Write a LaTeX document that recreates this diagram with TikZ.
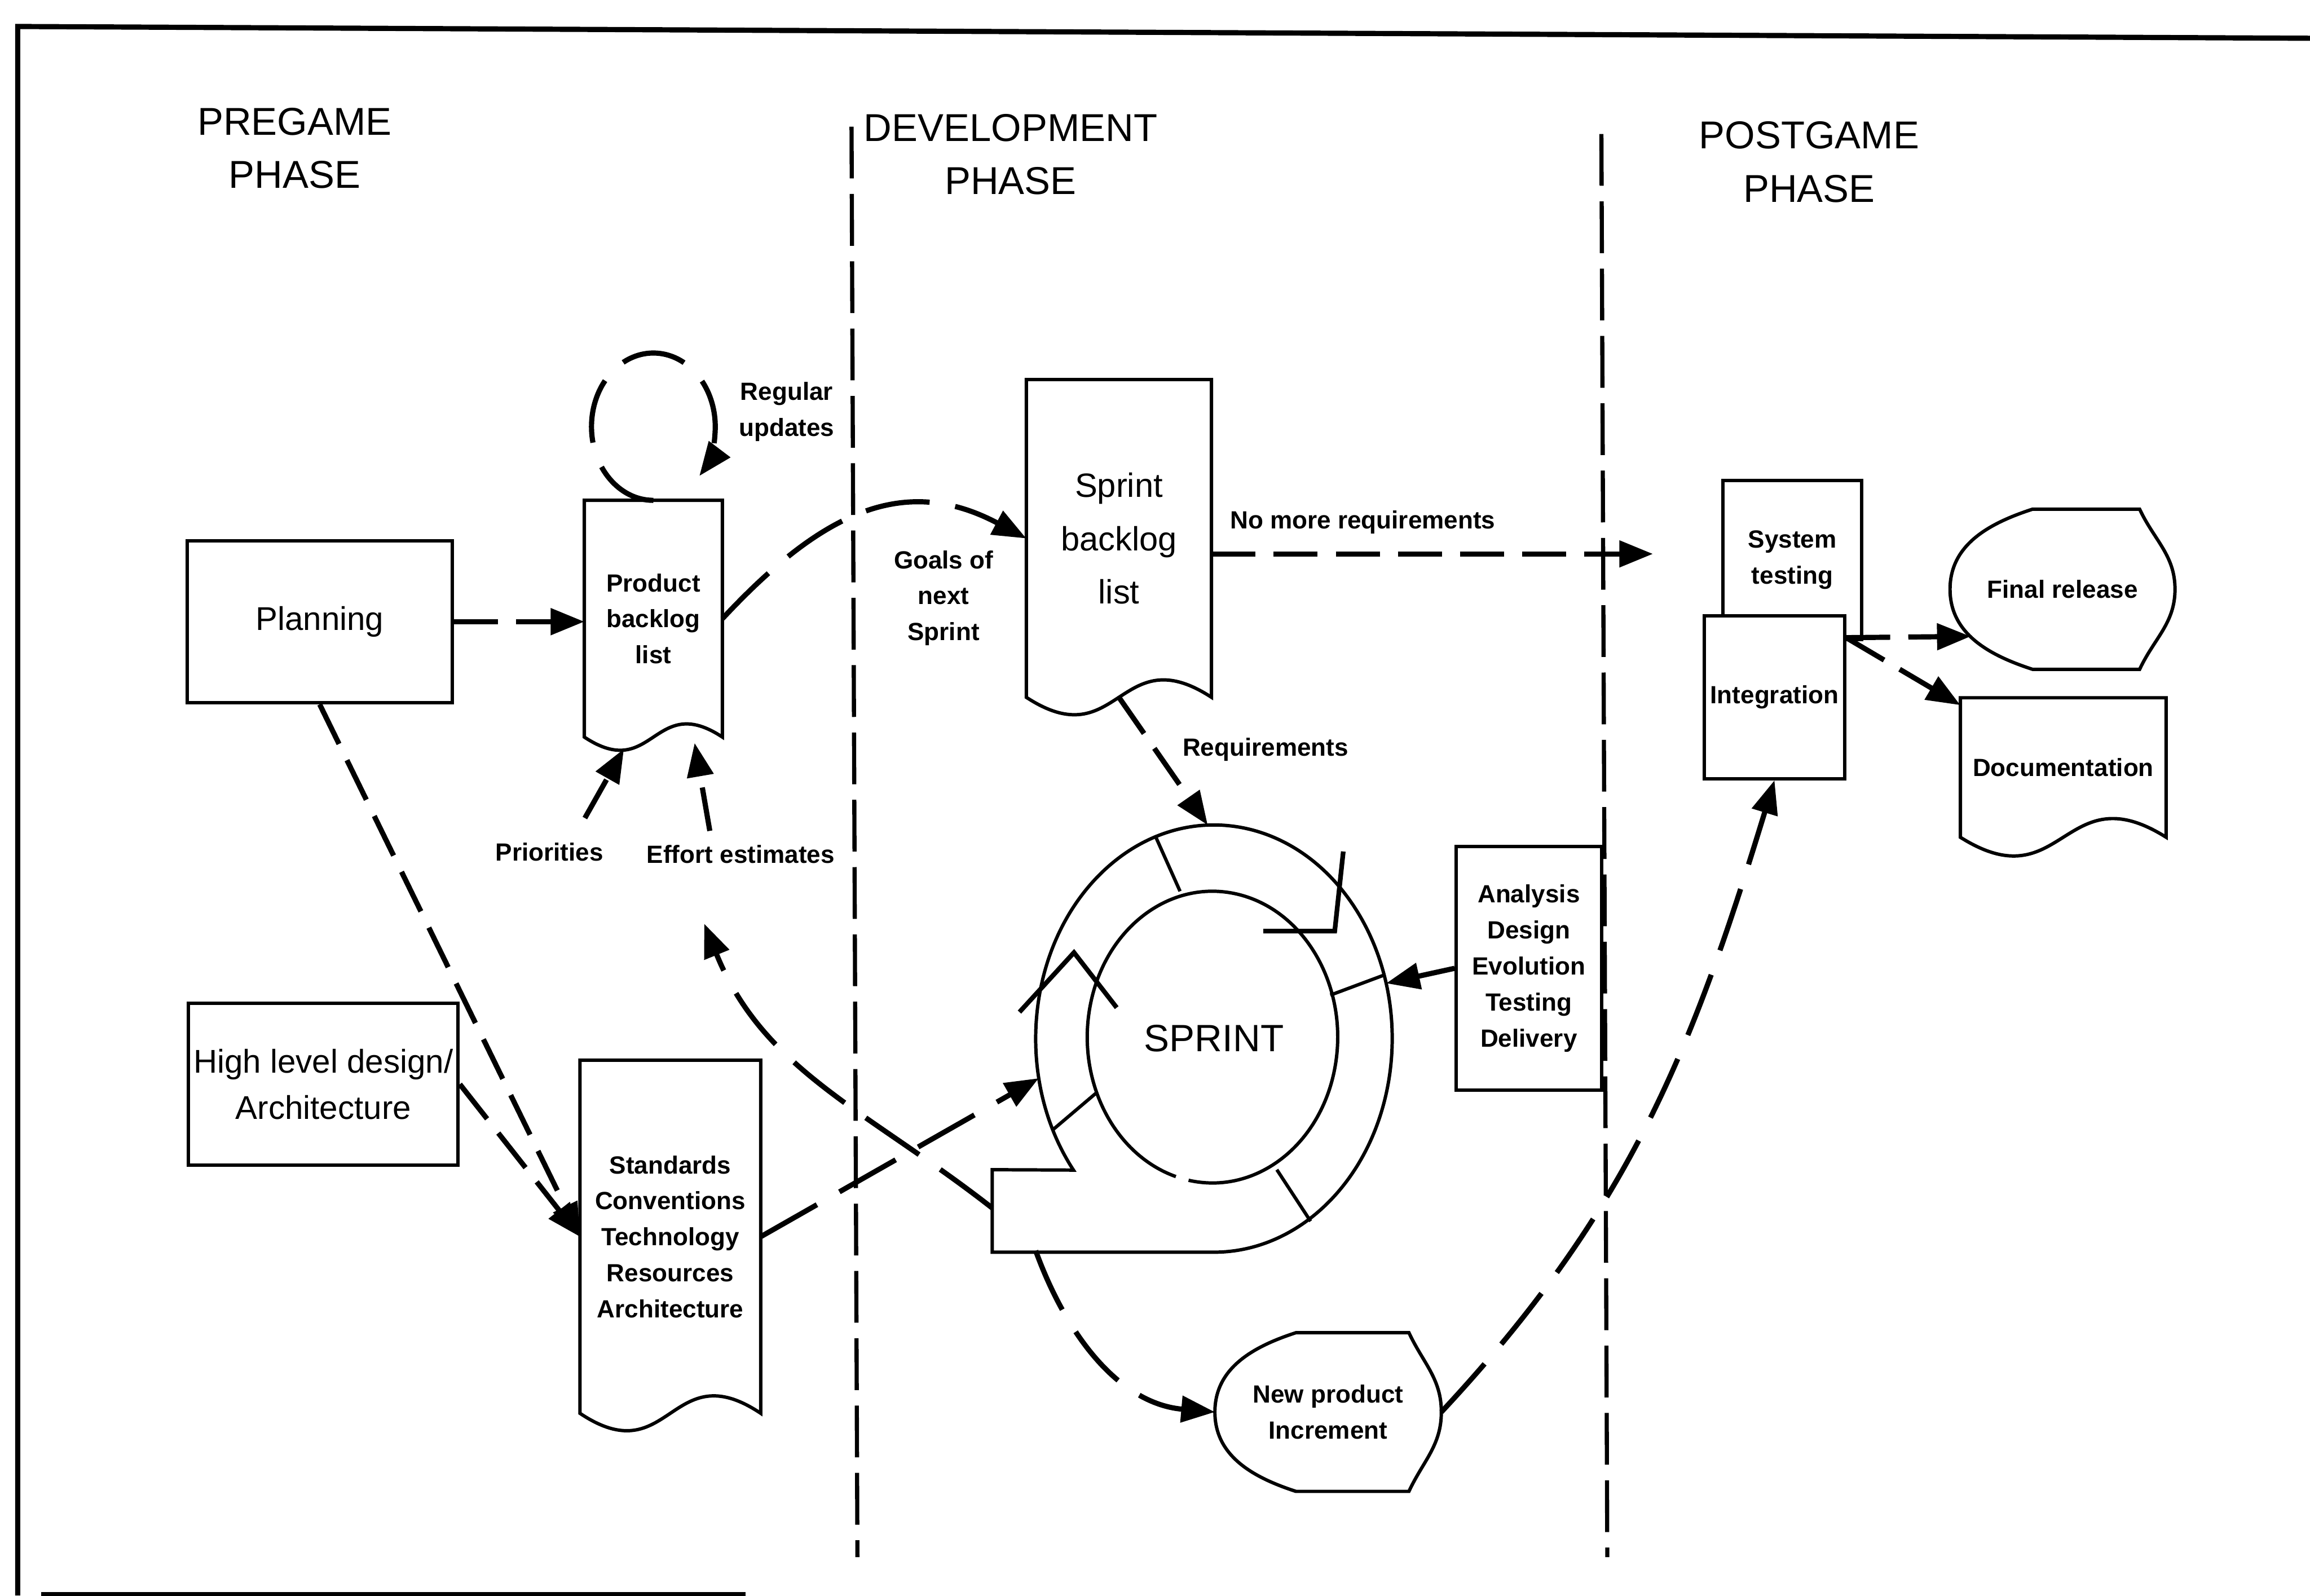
\documentclass[tikz,border=0pt]{standalone}
\usepackage{fontspec}
\setmainfont{Liberation Sans}
\usetikzlibrary{arrows.meta,calc}

\newcommand{\tagfont}{\fontsize{9.6}{13.9}\selectfont\bfseries}
\newcommand{\phasefont}{\fontsize{15}{20.5}\selectfont}
\newcommand{\bigfont}{\fontsize{12.7}{18}\selectfont}
\newcommand{\sbfont}{\fontsize{13}{20.5}\selectfont}
\newcommand{\ringfont}{\fontsize{14.7}{18}\selectfont}

\newcommand{\docframe}[2]{%
  \draw[boxline] (#1.south west) -- (#1.north west) -- (#1.north east) -- (#1.south east)
    .. controls ($(#1.south)+(0,#2)$) and ($(#1.south)+(0,-#2)$) .. (#1.south west) -- cycle;}
\newcommand{\dispframe}[3]{%
  \draw[boxline] ($(#1.north west)+(#2,0)$) -- ($(#1.north east)+(-#3,0)$)
    to[out=-65,in=90] (#1.east) to[out=-90,in=65] ($(#1.south east)+(-#3,0)$)
    -- ($(#1.south west)+(#2,0)$) to[out=162,in=-90] (#1.west)
    to[out=90,in=198] ($(#1.north west)+(#2,0)$) -- cycle;}

\begin{document}
\begin{tikzpicture}[x=0.2mm,y=0.2mm,
  boxline/.style={line width=1.3pt},
  box/.style={draw,line width=1.3pt,align=center,inner sep=0pt},
  docbox/.style={align=center,inner sep=0pt},
  tag/.style={font=\tagfont,align=center,inner sep=1pt},
  flow/.style={line width=2pt,dash pattern=on 17pt off 7pt,-{Triangle[length=13pt,width=10pt]}},
  longflow/.style={flow,dash pattern=on 25pt off 10pt},
  phaseline/.style={line width=1.6pt,dash pattern=on 20pt off 6pt}]

  \useasboundingbox (0,0) rectangle (1568,1083);

  % frame and phases
  \draw[line width=2pt] (1568,1057) -- (12,1065) -- (12,0);
  \draw[line width=1.6pt] (28,1) -- (506,1);
  \node[font=\phasefont,align=center] (pregame) at (200,982.5) {PREGAME\\PHASE};
  \node[font=\phasefont,align=center] (devphase) at (686,978) {DEVELOPMENT\\PHASE};
  \node[font=\phasefont,align=center] (postgame) at (1228,973) {POSTGAME\\PHASE};
  \draw[phaseline] (578,997) -- (582,26);
  \draw[phaseline] (1087,992) -- (1091,26);

  % boxes
  \node[box,minimum width=36mm,minimum height=22mm,font=\bigfont] (planning) at (217,661) {Planning};
  \node[box,minimum width=36.6mm,minimum height=22mm,font=\bigfont] (hld) at (219.5,347) {High level design/\\Architecture};
  \node[docbox,minimum width=18.6mm,minimum height=32mm,font=\tagfont] (pbl) at (443.5,663) {Product\\backlog\\list};
  \node[docbox,minimum width=25mm,minimum height=43mm,font=\sbfont] (sbl) at (759.5,717.5) {Sprint\\backlog\\list};
  \node[docbox,minimum width=24.4mm,minimum height=47.8mm,font=\tagfont] (std) at (455,243.5) {Standards\\Conventions\\Technology\\Resources\\Architecture};
  \node[box,minimum width=19.7mm,minimum height=33.1mm,font=\tagfont] (ana) at (1037.75,425.7) {Analysis\\Design\\Evolution\\Testing\\Delivery};
  \node[box,minimum width=18.8mm,minimum height=21.6mm,font=\tagfont] (syst) at (1216.6,703) {System\\testing};
  \node[box,fill=white,minimum width=19mm,minimum height=22.1mm,font=\tagfont] (intg) at (1204.5,609.75) {Integration};
  \node[docbox,minimum width=30.4mm,minimum height=21.6mm,font=\tagfont] (final) at (1400,683) {Final release};
  \node[docbox,minimum width=27.8mm,minimum height=18.8mm,font=\tagfont] (doc) at (1400.5,562) {Documentation};
  \node[docbox,minimum width=30.6mm,minimum height=21.4mm,font=\tagfont] (npi) at (901.5,124.5) {New product\\Increment};
  \docframe{pbl}{31}
  \docframe{sbl}{41}
  \docframe{std}{41}
  \docframe{doc}{44}
  \dispframe{final}{56}{24}
  \dispframe{npi}{55}{22}

  % sprint ring
  \node[font=\ringfont] (sprint) at (824,378) {SPRINT};
  \draw[boxline] (sprint.center) ++(218:121 and 145) arc[start angle=218,end angle=-90,x radius=121,y radius=145]
    -- (673.5,233) -- (673.5,289) -- cycle;
  \draw[boxline] (823,379) ++(259:85 and 99) arc[start angle=259,end angle=613,x radius=85,y radius=99];
  \draw[boxline] (784,516) -- (801,478);
  \draw[boxline] (903,407.5) -- (940,421.3);
  \draw[boxline] (866.7,289) -- (889.6,254);
  \draw[boxline] (715,316.4) -- (744,341);
  \draw[line width=1.8pt] (692,396) -- (729,436.4) -- (758,399);
  \draw[line width=1.8pt] (857.5,451) -- (906,451) -- (911.8,505);
  \path (sprint.center) ++(92:121 and 145) coordinate (rtop);
  \path (sprint.center) ++(15:121 and 145) coordinate (rright);
  \path (sprint.center) ++(190.7:121 and 145) coordinate (rleft);
  \coordinate (tailw) at (673.5,263);
  \coordinate (tails) at (703,234);
  \coordinate (nomore) at (1122,707);
  \coordinate (effin) at (478,456);
  \coordinate (intgout) at ($(intg.north east)+(0,-16)$);

  % flows
  \draw[longflow] (pbl.north) arc[start angle=270,end angle=-42,x radius=42,y radius=50];
  \node[tag] (regupd) at (534,803.5) {Regular\\updates};
  \draw[flow] (planning.east) -- (planning.east -| pbl.west);
  \draw[longflow] (pbl.east) to[out=47,in=152,looseness=1.15] (sbl.west);
  \node[tag] (goals) at (640.5,677) {Goals of\\next\\Sprint};
  \draw[flow] (sbl.east |- nomore) -- (nomore);
  \node[tag] (nomorelbl) at (925,728.5) {No more requirements};
  \draw[flow] (sbl.south) -- (rtop);
  \node[tag] (reqlbl) at (859,574) {Requirements};
  \draw[line width=2pt,-{Triangle[length=13pt,width=10pt]}] (ana.west) -- (rright);
  \draw[longflow] (tailw) to[out=142,in=-68] (effin);
  \draw[flow] (planning.south) -- (std.west);
  \draw[flow] (hld.east) -- (std.west);
  \draw[longflow] (std.east) -- (rleft);
  \draw[longflow] (tails) to[out=-70,in=175] (npi.west);
  \draw[longflow] (npi.east) to[out=47,in=-107] (intg.south);
  \draw[flow] (intgout) -- ($(final.west)+(14,-32)$);
  \draw[flow] (intgout) -- ($(doc.north west)+(0,-5)$);
  \node[tag] (prio) at (373,504.7) {Priorities};
  \node[tag] (effort) at (502.8,503) {Effort estimates};
  \draw[flow] ($(prio.center)+(24,23)$) -- ($(pbl.south)+(-20,-8)$);
  \draw[flow] ($(effort.center)+(-21,16)$) -- ($(pbl.south)+(28,-4)$);
\end{tikzpicture}
\end{document}
